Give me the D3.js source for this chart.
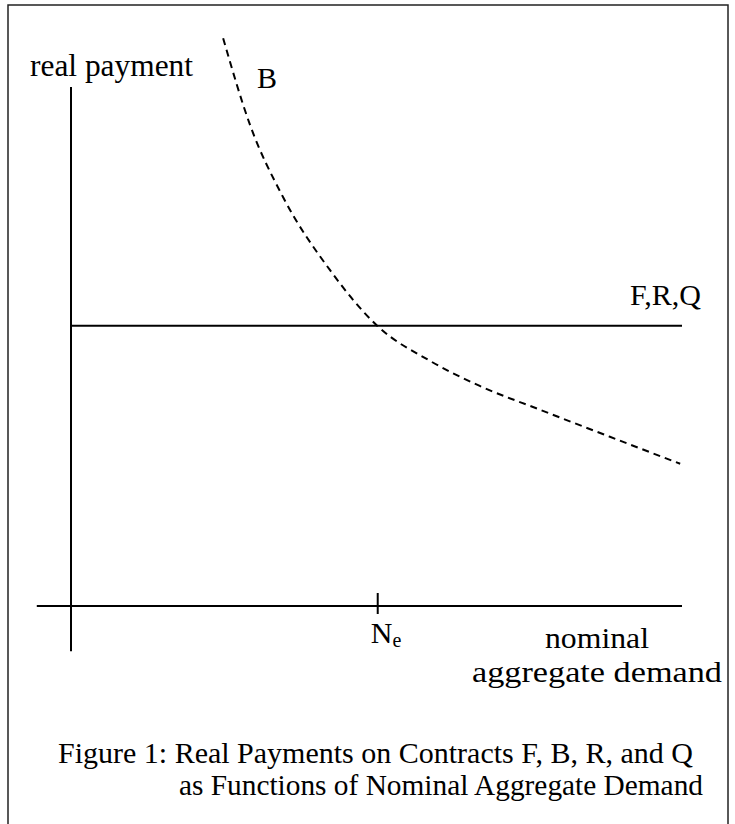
<!DOCTYPE html>
<html>
<head>
<meta charset="utf-8">
<script src="https://cdn.jsdelivr.net/npm/d3@7"></script>
<style>
  body { margin: 0; background: #fff; }
  text { font-family: "Liberation Serif", "Times New Roman", serif; fill: #000; }
</style>
</head>
<body>
<svg id="chart" width="735" height="824"></svg>
<script>
// curve B (real payment vs nominal aggregate demand)
var bX = [2.49, 2.93, 3.47, 4.24, 5.02, 5.88, 6.69, 7.68, 8.82, 9.97];
var bY = [10.94, 9.27, 7.88, 6.47, 5.39, 4.72, 4.24, 3.78, 3.26, 2.74];

// flat line F,R,Q
var flatLevel = 5.4;
var flatX = [0, 10];

// marked point on the x axis
var tickValues = [5.02];
var tickLabels = ["N"];

var svg = d3.select("#chart");

var x = d3.scaleLinear().domain([0, 10]).range([71, 682]);
var y = d3.scaleLinear().domain([0, 10]).range([606, 87]);

// outer frame
svg.append("rect")
    .attr("x", 8).attr("y", 5)
    .attr("width", 720).attr("height", 830)
    .attr("fill", "none")
    .attr("stroke", "#222")
    .attr("stroke-width", 1.5);

// axes
svg.append("line")
    .attr("x1", x(-0.56)).attr("x2", x(10))
    .attr("y1", y(0)).attr("y2", y(0))
    .attr("stroke", "#000").attr("stroke-width", 2);

svg.append("line")
    .attr("x1", x(0)).attr("x2", x(0))
    .attr("y1", y(10)).attr("y2", y(-0.87))
    .attr("stroke", "#000").attr("stroke-width", 2);

// tick for N_e
svg.selectAll(".tick")
    .data(tickValues)
    .enter().append("line")
    .attr("class", "tick")
    .attr("x1", function (d) { return x(d); })
    .attr("x2", function (d) { return x(d); })
    .attr("y1", y(0) - 13)
    .attr("y2", y(0) + 8)
    .attr("stroke", "#000").attr("stroke-width", 2);

// F,R,Q horizontal line
svg.append("line")
    .attr("x1", x(flatX[0])).attr("x2", x(flatX[1]))
    .attr("y1", y(flatLevel)).attr("y2", y(flatLevel))
    .attr("stroke", "#000").attr("stroke-width", 2);

// B dashed curve
var line = d3.line()
    .x(function (d) { return x(d[0]); })
    .y(function (d) { return y(d[1]); })
    .curve(d3.curveMonotoneX);

svg.append("path")
    .datum(d3.zip(bX, bY))
    .attr("d", line)
    .attr("fill", "none")
    .attr("stroke", "#000")
    .attr("stroke-width", 2)
    .attr("stroke-dasharray", "7,5");

// labels
svg.append("text")
    .attr("x", 30).attr("y", 76)
    .attr("font-size", 31)
    .attr("textLength", 163)
    .attr("lengthAdjust", "spacingAndGlyphs")
    .text("real payment");

svg.append("text")
    .attr("x", 257).attr("y", 88)
    .attr("font-size", 30)
    .text("B");

svg.append("text")
    .attr("x", 630).attr("y", 305)
    .attr("font-size", 30)
    .attr("textLength", 71)
    .attr("lengthAdjust", "spacingAndGlyphs")
    .text("F,R,Q");

var ne = svg.append("text")
    .attr("x", x(tickValues[0]) - 7).attr("y", 643)
    .attr("font-size", 30);
ne.append("tspan").text(tickLabels[0]);
ne.append("tspan").attr("font-size", 20).attr("dy", 4).text("e");

svg.append("text")
    .attr("x", 597).attr("y", 648)
    .attr("font-size", 29)
    .attr("text-anchor", "middle")
    .attr("textLength", 104)
    .attr("lengthAdjust", "spacingAndGlyphs")
    .text("nominal");

svg.append("text")
    .attr("x", 597).attr("y", 682)
    .attr("font-size", 29)
    .attr("text-anchor", "middle")
    .attr("textLength", 250)
    .attr("lengthAdjust", "spacingAndGlyphs")
    .text("aggregate demand");

// caption
svg.append("text")
    .attr("x", 58).attr("y", 763)
    .attr("font-size", 29)
    .attr("textLength", 635)
    .attr("lengthAdjust", "spacingAndGlyphs")
    .text("Figure 1: Real Payments on Contracts F, B, R, and Q");

svg.append("text")
    .attr("x", 179).attr("y", 795)
    .attr("font-size", 29)
    .attr("textLength", 524)
    .attr("lengthAdjust", "spacingAndGlyphs")
    .text("as Functions of Nominal Aggregate Demand");
</script>
</body>
</html>
